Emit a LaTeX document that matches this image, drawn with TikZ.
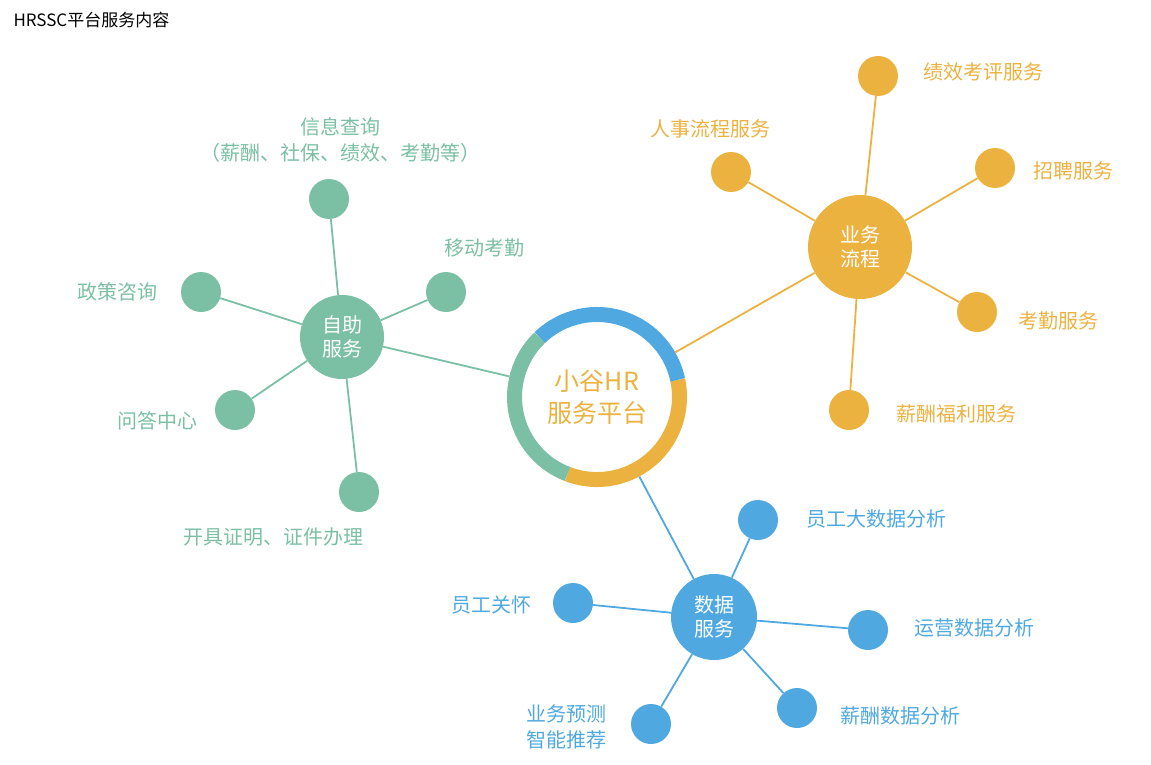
\documentclass[tikz,border=0pt]{standalone}
\usepackage{fontspec}
\setmainfont{Noto Sans CJK SC}
\definecolor{cg}{HTML}{7BBFA5}
\definecolor{co}{HTML}{EBB240}
\definecolor{cb}{HTML}{4FA9E0}
\begin{document}
\begin{tikzpicture}[x=1pt,y=-1pt,
 leaf/.style={circle,fill=#1,minimum size=40pt,inner sep=0pt},
 hub/.style={circle,fill=#1,text=white,font=\fontsize{20}{24}\selectfont,align=center,inner sep=0pt},
 lab/.style={text=#1,font=\fontsize{20}{26}\selectfont,align=center},
 ln/.style={draw=#1,line width=1.8pt}]
\useasboundingbox (0,0) rectangle (1151,765);
\node[anchor=west,font=\fontsize{17}{20}\selectfont] (title) at (10,20) {HRSSC平台服务内容};
% ring
\coordinate (rc) at (597,397);
\node[circle,minimum size=180pt,inner sep=0pt] (ring) at (rc) {};
\draw[co,line width=15pt] (597,397) ++(111:82.5) arc[start angle=111,end angle=-12,radius=82.5];
\draw[cb,line width=15pt] (597,397) ++(-12:82.5) arc[start angle=-12,end angle=-134,radius=82.5];
\draw[cg,line width=15pt] (597,397) ++(226:82.5) arc[start angle=226,end angle=111,radius=82.5];
\node[lab=co,font=\fontsize{25}{32}\selectfont] (rt) at (597,397) {小谷HR\\服务平台};
% hubs
\node[hub=cg,minimum size=84pt] (h1) at (342,337) {自助\\服务};
\node[hub=co,minimum size=104pt] (h2) at (860,247) {业务\\流程};
\node[hub=cb,minimum size=86pt] (h3) at (714,617) {数据\\服务};
% green leaves
\foreach \n/\p in {g1/{(329,199)},g2/{(446,292)},g3/{(201,292)},g4/{(235,410)},g5/{(359,492)}}{
 \node[leaf=cg] (\n) at \p {};}
\foreach \n/\p in {o1/{(878,76)},o2/{(731,172)},o3/{(995,168)},o4/{(977,312)},o5/{(849,410)}}{
 \node[leaf=co] (\n) at \p {};}
\foreach \n/\p in {b1/{(758,520)},b2/{(573,603)},b3/{(868,630)},b4/{(651,724)},b5/{(797,708)}}{
 \node[leaf=cb] (\n) at \p {};}
\begin{scope}[on background layer/.style={}]
\end{scope}
% edges
\foreach \n in {g1,g2,g3,g4,g5}{\draw[ln=cg] (h1) -- (\n);}
\foreach \n in {o1,o2,o3,o4,o5}{\draw[ln=co] (h2) -- (\n);}
\foreach \n in {b1,b2,b3,b4,b5}{\draw[ln=cb] (h3) -- (\n);}
\draw[ln=cg] (h1) -- (ring);
\draw[ln=co] (h2) -- (ring);
\draw[ln=cb] (h3) -- (ring);
% labels
\node[lab=cg] (lg1) at (340,140) {信息查询\\（薪酬、社保、绩效、考勤等）};
\node[lab=cg] (lg2) at (484,248) {移动考勤};
\node[lab=cg] (lg3) at (117,292) {政策咨询};
\node[lab=cg] (lg4) at (157,421) {问答中心};
\node[lab=cg] (lg5) at (273,537) {开具证明、证件办理};
\node[lab=co] (lo1) at (983,72) {绩效考评服务};
\node[lab=co] (lo2) at (710,129) {人事流程服务};
\node[lab=co] (lo3) at (1073,171) {招聘服务};
\node[lab=co] (lo4) at (1058,321) {考勤服务};
\node[lab=co] (lo5) at (956,414) {薪酬福利服务};
\node[lab=cb] (lb1) at (876,519) {员工大数据分析};
\node[lab=cb] (lb2) at (491,605) {员工关怀};
\node[lab=cb] (lb3) at (974,628) {运营数据分析};
\node[lab=cb] (lb4) at (566,727) {业务预测\\智能推荐};
\node[lab=cb] (lb5) at (900,716) {薪酬数据分析};
\end{tikzpicture}
\end{document}
